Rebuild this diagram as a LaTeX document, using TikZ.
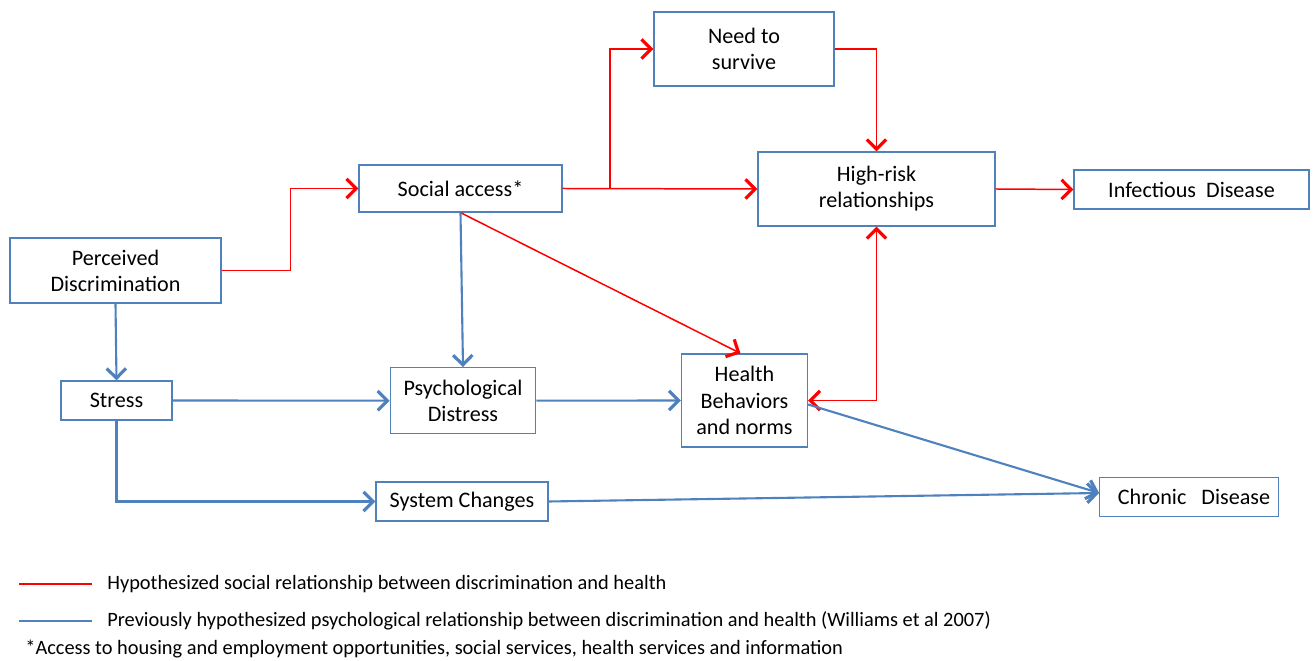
\documentclass[tikz,border=0pt]{standalone}
\usepackage{fontspec}
\setmainfont{Carlito}
\usetikzlibrary{arrows.meta}
\definecolor{socialclr}{RGB}{255,0,0}
\definecolor{psychclr}{RGB}{79,129,189}
\definecolor{boxclr}{RGB}{79,129,189}
\tikzset{
  factor/.style={draw=boxclr, line width=0.75pt, fill=white, align=center, inner sep=0pt,
                 font=\fontsize{12.6}{14.9}\selectfont},
  barb/.tip={Straight Barb[length=5.5pt, width=11pt, line width=1.8pt]},
  social/.style={draw=socialclr, line width=0.85pt, -barb},
  socialboth/.style={draw=socialclr, line width=0.85pt, barb-barb},
  psych/.style={draw=psychclr, line width=1.2pt, -barb},
  legendtext/.style={anchor=west, inner sep=0pt, font=\fontsize{11.6}{13.6}\selectfont}
}
\begin{document}
\begin{tikzpicture}[x=0.02cm, y=-0.02cm]
  \useasboundingbox (0,0) rectangle (1313,661);
  \node[factor, minimum width=4.22cm, minimum height=1.30cm] (discr) at (115.5,270.5)
    {Perceived\\ Discrimination};
  \node[factor, minimum width=4.06cm, minimum height=0.94cm] (access) at (460.5,188.5)
    {Social access*};
  \node[factor, minimum width=3.60cm, minimum height=1.48cm] (survive) at (744,49)
    {Need to\\ survive};
  \node[factor, minimum width=4.74cm, minimum height=1.48cm] (highrisk) at (876.5,189)
    {High-risk\\ relationships};
  \node[factor, minimum width=4.70cm, minimum height=0.78cm] (infect) at (1191.5,189.5)
    {Infectious\ \ Disease};
  \node[factor, minimum width=2.22cm, minimum height=0.78cm] (stress) at (116.5,400.5)
    {Stress};
  \node[factor, minimum width=2.91cm, minimum height=1.32cm] (distress) at (463,400.7)
    {Psychological\\ Distress};
  \node[factor, minimum width=3.44cm, minimum height=0.78cm] (system) at (462,501.5)
    {System Changes};
  \node[factor, minimum width=2.52cm, minimum height=1.86cm] (behav) at (744.5,400.5)
    {Health\\ Behaviors\\ and norms};
  \node[factor, minimum width=3.57cm, minimum height=0.78cm] (chronic) at (1189,497)
    {\hspace*{0.2cm}Chronic\ \ \ Disease};

  \draw[social] (discr.east) -- ++(69,0) |- (access.west);
  \draw[social] (access.east) -- (highrisk.west);
  \draw[social] (access.east) -- ++(47.5,0) |- (survive.west);
  \draw[social] (survive.east) -| (highrisk.north);
  \draw[social] (highrisk.east) -- (infect.west);
  \draw[social] (access.south) -- ([xshift=-0.08cm]behav.north);
  \draw[socialboth] (highrisk.south) |- (behav.east);

  \draw[psych] (discr.south) -- (stress.north);
  \draw[psych] (access.south) -- (distress.north);
  \draw[psych] (stress.east) -- (distress.west);
  \draw[psych] (distress.east) -- (behav.west);
  \draw[psych] (stress.south) |- (system.west);
  \draw[psych] (system.east) -- ([yshift=0.08cm]chronic.west);
  \draw[psych] ([yshift=-0.08cm]behav.east) -- ([yshift=0.08cm]chronic.west);

  \node[legendtext] (socialkey) at (107,584)
    {Hypothesized social relationship between discrimination and health};
  \draw[socialclr, line width=0.85pt] (19,584) -- (socialkey.west -| 92,0);
  \node[legendtext] (psychkey) at (107,621)
    {Previously hypothesized psychological relationship between discrimination and health (Williams et al 2007)};
  \draw[psychclr, line width=1.2pt] (19,621) -- (psychkey.west -| 92,0);
  \node[legendtext] (footnote) at (25,649)
    {*Access to housing and employment opportunities, social services, health services and information};
\end{tikzpicture}
\end{document}
